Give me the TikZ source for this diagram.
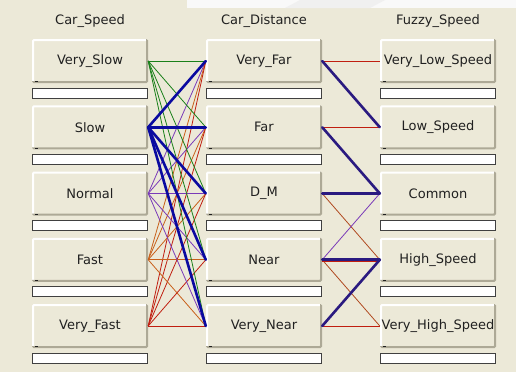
\documentclass[tikz,border=0pt]{standalone}
\usepackage{fontspec}
\setmainfont{DejaVu Sans}
\definecolor{panel}{HTML}{ECE9D8}
\definecolor{btnshadow}{HTML}{ADA996}
\definecolor{txt}{HTML}{202020}
\definecolor{barline}{HTML}{404040}
\definecolor{cgreen}{HTML}{1A801A}
\definecolor{cblue}{HTML}{0A0AA0}
\definecolor{cpurple}{HTML}{7A3AB8}
\definecolor{corange}{HTML}{C8601A}
\definecolor{cred}{HTML}{C01E10}
\definecolor{cindigo}{HTML}{2A1A80}
\definecolor{cbrown}{HTML}{B04A20}
\tikzset{
  btn/.style={rectangle, rounded corners=1.5pt, fill=panel, minimum width=116pt,
    minimum height=44pt, inner sep=0pt, text=txt, font=\fontsize{13}{15}\selectfont,
    path picture={
      \draw[white, line width=4pt] (path picture bounding box.south west) --
        (path picture bounding box.north west) -- (path picture bounding box.north east);
      \draw[btnshadow, line width=4pt] (path picture bounding box.north east) --
        (path picture bounding box.south east) -- (path picture bounding box.south west);
      \draw[txt, line width=0.8pt] ([shift={(3pt,1.2pt)}]path picture bounding box.south west) -- ++(3pt,0pt);
    }},
  bar/.style={rectangle, fill=white, draw=barline, line width=0.9pt, minimum width=115pt,
    minimum height=10pt, inner sep=0pt},
  title/.style={text=txt, font=\fontsize{13}{15}\selectfont, inner sep=0pt},
  thinln/.style={line width=0.8pt},
  thickln/.style={line width=2.6pt, line cap=round},
}
\begin{document}
\begin{tikzpicture}[x=1pt,y=-1pt]
\useasboundingbox (0,0) rectangle (516,372);
\fill[panel] (0,0) rectangle (516,372);
\fill[white!95!gray] (187,0) rectangle (516,8);
\fill[gray!12] (300,0) -- (385,0) -- (370,8) -- (285,8) -- cycle;

\node[title] (t1) at (90,21) {Car\_Speed};
\node[title] (t2) at (264,21) {Car\_Distance};
\node[title] (t3) at (438,21) {Fuzzy\_Speed};

\foreach \i/\a/\b/\c in {1/Very\_Slow/Very\_Far/Very\_Low\_Speed,
                          2/Slow/Far/Low\_Speed,
                          3/Normal/D\_M/Common,
                          4/Fast/Near/High\_Speed,
                          5/Very\_Fast/Very\_Near/Very\_High\_Speed}{
  \pgfmathsetmacro{\yy}{61+66.25*(\i-1)}
  \pgfmathsetmacro{\yb}{93+66.25*(\i-1)}
  \node[btn] (s\i) at (90,\yy) {\a};
  \node[btn] (d\i) at (264,\yy) {\b};
  \node[btn] (f\i) at (438,\yy) {\c};
  \node[bar] (bs\i) at (89.5,\yb) {};
  \node[bar] (bd\i) at (263.5,\yb) {};
  \node[bar] (bf\i) at (437.5,\yb) {};
}

% thin connectors, Car_Speed -> Car_Distance
\foreach \j in {1,...,5}{
  \draw[thinln, cgreen] (s1.east) -- (d\j.west);
  \draw[thinln, cpurple] (s3.east) -- (d\j.west);
  \draw[thinln, corange] (s4.east) -- (d\j.west);
  \draw[thinln, cred] (s5.east) -- (d\j.west);
}
% thick connectors from Slow
\foreach \j in {1,...,5}{
  \draw[thickln, cblue] (s2.east) -- (d\j.west);
}

% Car_Distance -> Fuzzy_Speed
\draw[thinln, cred] (d1.east) -- (f1.west);
\draw[thinln, cred] (d2.east) -- (f2.west);
\draw[thinln, cbrown] (d3.east) -- (f4.west);
\draw[thinln, cpurple] (d4.east) -- (f3.west);
\draw[thinln, cbrown] (d4.east) -- (f5.west);
\draw[thinln, cred] (d5.east) -- (f5.west);
\draw[thinln, cred] ([yshift=-1.2pt]d3.east) -- ([yshift=-1.2pt]f3.west);
\draw[thinln, cred] ([yshift=-1.2pt]d4.east) -- ([yshift=-1.2pt]f4.west);
\draw[thickln, cindigo] (d1.east) -- (f2.west);
\draw[thickln, cindigo] (d2.east) -- (f3.west);
\draw[thickln, cindigo] (d3.east) -- (f3.west);
\draw[thickln, cindigo] (d4.east) -- (f4.west);
\draw[thickln, cindigo] (d5.east) -- (f4.west);
\end{tikzpicture}
\end{document}
